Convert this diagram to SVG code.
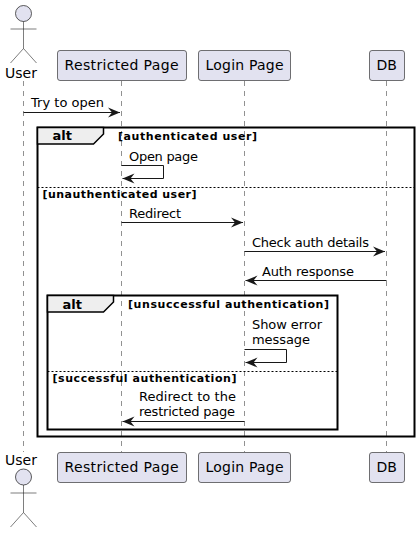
<svg xmlns="http://www.w3.org/2000/svg" width="420" height="533" viewBox="0 0 420 533">
<style>
text{font-family:"DejaVu Sans",sans-serif;fill:#000}
.m{font-size:13px}
.n{font-size:14px}
.g{font-size:11px;font-weight:bold}
.a{font-size:13px;font-weight:bold}
.life{stroke:#181818;stroke-opacity:.6;stroke-width:.8;stroke-dasharray:5 5;fill:none}
.box{fill:#E2E2F0;stroke:#181818;stroke-opacity:.6;stroke-width:1}
.act{fill:none;stroke:#181818;stroke-opacity:.7;stroke-width:.8}
.head{fill:#E2E2F0;stroke:#181818;stroke-opacity:.7;stroke-width:1}
.frame{fill:none;stroke:#000;stroke-width:2}
.tab{fill:#EEEEEE;stroke:#000;stroke-width:1.5}
.sep{stroke:#000;stroke-width:1;stroke-dasharray:2 2;fill:none}
.msg{stroke:#181818;stroke-width:1;fill:none;marker-end:url(#ah)}
</style>
<defs>
<marker id="ah" markerUnits="userSpaceOnUse" markerWidth="14" markerHeight="12" refX="12" refY="5" orient="auto" overflow="visible">
<path d="M0,0 L12,5 L0,10 L4,5 Z" fill="#181818"/>
</marker>
</defs>
<g id="lifelines">
<line class="life" x1="23.5" y1="81" x2="23.5" y2="452"/>
<line class="life" x1="121.5" y1="81" x2="121.5" y2="452"/>
<line class="life" x1="244.5" y1="81" x2="244.5" y2="452"/>
<line class="life" x1="386.5" y1="81" x2="386.5" y2="452"/>
</g>
<g id="frames">
<g id="alt-outer">
<rect class="frame" x="37.5" y="127.5" width="377" height="309"/>
<path class="tab" d="M37.5,127.5 H103.5 V134 L93.5,144 H37.5 Z"/>
<text class="a" x="52.5" y="140">alt</text>
<text class="g" x="118" y="140" textLength="139">[authenticated user]</text>
<line class="sep" x1="37.5" y1="187.5" x2="414.5" y2="187.5"/>
<text class="g" x="42.5" y="198" textLength="154">[unauthenticated user]</text>
</g>
<g id="alt-inner">
<rect class="frame" x="47.5" y="295.5" width="290" height="134"/>
<path class="tab" d="M47.5,295.5 H113.5 V302 L103.5,312 H47.5 Z"/>
<text class="a" x="62.5" y="309">alt</text>
<text class="g" x="128" y="308" textLength="201">[unsuccessful authentication]</text>
<line class="sep" x1="47.5" y1="371.5" x2="337.5" y2="371.5"/>
<text class="g" x="52.5" y="382" textLength="184">[successful authentication]</text>
</g>
</g>
<g id="connectors">
<line class="msg" x1="23.5" y1="112.5" x2="120" y2="112.5"/>
<path class="msg" d="M121.5,165.5 H163.5 V178.5 H122.5"/>
<line class="msg" x1="121.5" y1="222.5" x2="243" y2="222.5"/>
<line class="msg" x1="244.5" y1="251.5" x2="385" y2="251.5"/>
<line class="msg" x1="386.5" y1="280.5" x2="245.5" y2="280.5"/>
<path class="msg" d="M244.5,349.5 H286.5 V362.5 H245.5"/>
<line class="msg" x1="244.5" y1="421.5" x2="122.5" y2="421.5"/>
</g>
<g id="labels">
<text class="m" x="31" y="107" textLength="73">Try to open</text>
<text class="m" x="129" y="161" textLength="69">Open page</text>
<text class="m" x="129" y="218" textLength="52">Redirect</text>
<text class="m" x="252" y="247" textLength="117">Check auth details</text>
<text class="m" x="262" y="276" textLength="92">Auth response</text>
<text class="m" x="252" y="329" textLength="70">Show error</text>
<text class="m" x="252" y="344" textLength="58">message</text>
<text class="m" x="139" y="401" textLength="97">Redirect to the</text>
<text class="m" x="139" y="416" textLength="96">restricted page</text>
</g>
<g id="user-top">
<circle class="head" cx="23.5" cy="13.5" r="8"/>
<path class="act" d="M23.5,21.5 V48.5 M10.5,29 H36.5 M10.5,63 L23.5,48.5 L36.5,63"/>
<text class="n" x="5" y="78">User</text>
</g>
<g id="user-bottom">
<text class="n" x="5" y="465">User</text>
<circle class="head" cx="23.5" cy="477" r="8"/>
<path class="act" d="M23.5,485 V512.5 M10.5,493 H36.5 M10.5,527 L23.5,512.5 L36.5,527"/>
</g>
<g id="restricted-top">
<rect class="box" x="57.5" y="50.5" width="129" height="30" rx="2.5"/>
<text class="n" x="64.5" y="70" textLength="114">Restricted Page</text>
</g>
<g id="login-top">
<rect class="box" x="198.5" y="50.5" width="92" height="30" rx="2.5"/>
<text class="n" x="205.5" y="70" textLength="78">Login Page</text>
</g>
<g id="db-top">
<rect class="box" x="369.5" y="50.5" width="35" height="30" rx="2.5"/>
<text class="n" x="376.5" y="70">DB</text>
</g>
<g id="restricted-bottom">
<rect class="box" x="57.5" y="452.5" width="129" height="30" rx="2.5"/>
<text class="n" x="64.5" y="472" textLength="114">Restricted Page</text>
</g>
<g id="login-bottom">
<rect class="box" x="198.5" y="452.5" width="92" height="30" rx="2.5"/>
<text class="n" x="205.5" y="472" textLength="78">Login Page</text>
</g>
<g id="db-bottom">
<rect class="box" x="369.5" y="452.5" width="35" height="30" rx="2.5"/>
<text class="n" x="376.5" y="472">DB</text>
</g>
</svg>
